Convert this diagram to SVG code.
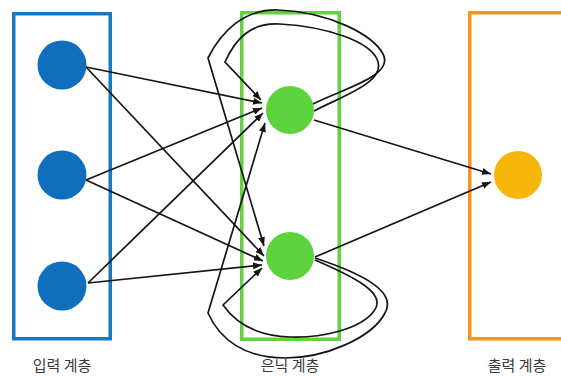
<svg xmlns="http://www.w3.org/2000/svg" width="561" height="376" viewBox="0 0 561 376">
<defs>
<marker id="arr" markerUnits="userSpaceOnUse" markerWidth="9" markerHeight="7" refX="9" refY="3.5" orient="auto">
<path d="M0,0 L9,3.5 L0,7 z" fill="#151515"/>
</marker>
</defs>
<style>
.lay{fill:none;stroke-width:3.5}
.edge{fill:none;stroke:#151515;stroke-width:1.7;marker-end:url(#arr)}
.lbl{font-family:"Noto Sans CJK KR","Noto Sans",sans-serif;font-size:15px;fill:#3a3a3a;text-anchor:middle}
.in{fill:#0f6fbd}
.hid{fill:#5cd23c}
.out{fill:#f6b70a}
</style>
<rect width="561" height="376" fill="#ffffff"/>
<g id="layer-input">
<rect class="lay" x="13.75" y="13.75" width="96.5" height="325" stroke="#1a78c2"/>
<text class="lbl" x="62" y="371">입력 계층</text>
</g>
<g id="layer-hidden">
<rect class="lay" x="241.75" y="12.75" width="97.5" height="326.5" stroke="#66d13f"/>
<text class="lbl" x="290" y="371">은닉 계층</text>
</g>
<g id="layer-output">
<rect class="lay" x="469.75" y="12.75" width="120" height="326" stroke="#f7941d"/>
<text class="lbl" x="517" y="371">출력 계층</text>
</g>
<g id="connectors">
<line class="edge" x1="86" y1="67" x2="262" y2="103"/>
<line class="edge" x1="86" y1="67" x2="264" y2="256"/>
<line class="edge" x1="86" y1="180" x2="262" y2="108"/>
<line class="edge" x1="86" y1="180" x2="263" y2="261"/>
<line class="edge" x1="88" y1="283" x2="263" y2="113"/>
<line class="edge" x1="88" y1="283" x2="262" y2="265"/>
<line class="edge" x1="314" y1="120" x2="491" y2="174"/>
<line class="edge" x1="315" y1="257" x2="491" y2="182"/>
<path class="edge" d="M314,111 C342,96 388,82 377,59 C369,42 330,27 280,24 C250,22 235,40 225,62 L261,100"/>
<path class="edge" d="M313,104 C342,89 395,76 383,54 C373,35 330,12 278,10 C245,9 222,30 208,58 L264,246"/>
<path class="edge" d="M315,260 C352,276 388,293 374,311 C360,330 320,338 290,337 C255,336 235,322 223,305 L262,268"/>
<path class="edge" d="M315,258 C357,272 398,290 385,313 C372,338 325,358 285,358 C245,358 220,340 208,313 L265,123"/>
</g>
<g id="node-i1"><circle class="in" cx="62" cy="65" r="24.5"/></g>
<g id="node-i2"><circle class="in" cx="62" cy="175" r="24.5"/></g>
<g id="node-i3"><circle class="in" cx="62" cy="286" r="24.5"/></g>
<g id="node-h1"><circle class="hid" cx="290" cy="110" r="24"/></g>
<g id="node-h2"><circle class="hid" cx="290" cy="256" r="24"/></g>
<g id="node-o1"><circle class="out" cx="518" cy="175" r="24"/></g>
</svg>
